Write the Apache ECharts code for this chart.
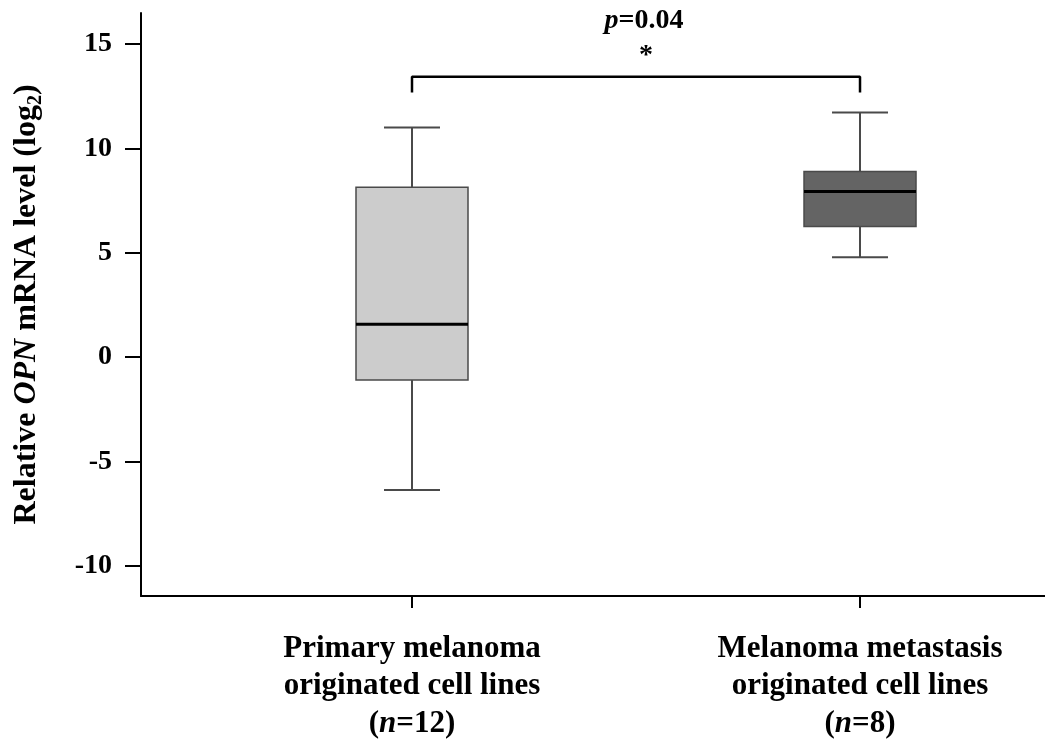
<!DOCTYPE html>
<html>
<head>
<meta charset="utf-8">
<script src="https://cdn.jsdelivr.net/npm/echarts@6/dist/echarts.min.js"></script>
<style>
html,body{margin:0;padding:0;background:#fff;}
#chart{width:1045px;height:742px;}
</style>
</head>
<body>
<div id="chart"></div>
<script>
// ---- data ----
const categories = [
  'Primary melanoma\noriginated cell lines\n({i|n}=12)',
  'Melanoma metastasis\noriginated cell lines\n({i|n}=8)'
];
const whiskerLow  = [-6.36, 4.78];
const q1Vals      = [-1.10, 6.26];
const medianVals  = [ 1.58, 7.93];
const q3Vals      = [ 8.13, 8.89];
const whiskerHigh = [11.00, 11.71];
const yTicks = [-10, -5, 0, 5, 10, 15];
const bracketTop = 13.43;
const bracketEnd = 12.67;
const pText = '{i|p}=0.04';
const starText = '*';

// ---- styles / layout ----
const FONT = "'Liberation Serif', 'Times New Roman', serif";
const boxFill = ['#cccccc', '#646464'];
const yMin = -11.44, yMax = 16.48;
const xMin = -0.6049, xMax = 1.4129;   // category i sits at x = i
const catPos = categories.map((c, i) => i);

const boxData = categories.map((c, i) => [i, whiskerLow[i], q1Vals[i], medianVals[i], q3Vals[i], whiskerHigh[i]]);
const bracketData = [[0, bracketEnd], [0, bracketTop], [1, bracketTop], [1, bracketEnd]];

const chart = echarts.init(document.getElementById('chart'), null, {renderer: 'canvas'});

chart.setOption({
  animation: false,
  backgroundColor: '#ffffff',
  grid: {left: 141, right: 0, top: 13, bottom: 146, containLabel: false, outerBoundsMode: 'none'},
  xAxis: {
    type: 'value', min: xMin, max: xMax,
    axisLine: {show: true, onZero: false, lineStyle: {color: '#000', width: 2}},
    axisTick: {show: true, length: 12, customValues: catPos, lineStyle: {color: '#000', width: 2}},
    axisLabel: {
      show: true, customValues: catPos,
      formatter: function (v) { return categories[Math.round(v)]; },
      margin: 34, color: '#000', fontFamily: FONT, fontWeight: 'bold', fontSize: 31, lineHeight: 37.5,
      rich: {i: {fontStyle: 'italic', fontWeight: 'bold', fontFamily: FONT, fontSize: 31, lineHeight: 37.5, color: '#000'}}
    },
    splitLine: {show: false}
  },
  yAxis: {
    type: 'value', min: yMin, max: yMax,
    axisLine: {show: true, onZero: false, lineStyle: {color: '#000', width: 2}},
    axisTick: {show: true, length: 16, customValues: yTicks, lineStyle: {color: '#000', width: 2}},
    axisLabel: {show: true, customValues: yTicks, margin: 29, color: '#000', fontFamily: FONT, fontWeight: 'bold', fontSize: 28},
    splitLine: {show: false},
    name: 'Relative {i|OPN} mRNA level (log{sub|2})',
    nameLocation: 'middle',
    nameGap: 95,
    nameTextStyle: {
      color: '#000', fontFamily: FONT, fontWeight: 'bold', fontSize: 32, lineHeight: 38,
      rich: {
        i: {fontStyle: 'italic', fontWeight: 'bold', fontFamily: FONT, fontSize: 32, lineHeight: 38, color: '#000'},
        sub: {fontWeight: 'bold', fontFamily: FONT, fontSize: 20, lineHeight: 20, verticalAlign: 'bottom', color: '#000'}
      }
    }
  },
  series: [
    {
      type: 'custom',
      data: boxData,
      encode: {x: 0, y: [1, 2, 3, 4, 5]},
      renderItem: function (params, api) {
        const x = api.value(0);
        const lo = api.coord([x, api.value(1)]);
        const q1 = api.coord([x, api.value(2)]);
        const md = api.coord([x, api.value(3)]);
        const q3 = api.coord([x, api.value(4)]);
        const hi = api.coord([x, api.value(5)]);
        const unit = api.size([1, 0])[0];
        const half = unit * 0.25 / 2;
        const cap = half / 2;
        const cx = lo[0];
        const wStyle = {stroke: '#4a4a4a', lineWidth: 2};
        return {
          type: 'group',
          children: [
            {type: 'line', shape: {x1: cx, y1: hi[1], x2: cx, y2: q3[1]}, style: wStyle},
            {type: 'line', shape: {x1: cx, y1: q1[1], x2: cx, y2: lo[1]}, style: wStyle},
            {type: 'line', shape: {x1: cx - cap, y1: hi[1], x2: cx + cap, y2: hi[1]}, style: wStyle},
            {type: 'line', shape: {x1: cx - cap, y1: lo[1], x2: cx + cap, y2: lo[1]}, style: wStyle},
            {type: 'rect', shape: {x: cx - half, y: q3[1], width: half * 2, height: q1[1] - q3[1]},
              style: {fill: boxFill[params.dataIndex], stroke: '#4a4a4a', lineWidth: 1.5}},
            {type: 'line', shape: {x1: cx - half, y1: md[1], x2: cx + half, y2: md[1]}, style: {stroke: '#000', lineWidth: 3}}
          ]
        };
      }
    },
    {
      type: 'line',
      data: bracketData,
      symbol: 'none',
      lineStyle: {color: '#000', width: 2.5},
      silent: true
    }
  ],
  graphic: [
    {
      type: 'text', x: 644, y: 21,
      style: {
        text: pText, align: 'center', verticalAlign: 'middle',
        fill: '#000', fontFamily: FONT, fontWeight: 'bold', fontSize: 28,
        rich: {i: {fontStyle: 'italic', fontWeight: 'bold', fontFamily: FONT, fontSize: 28, fill: '#000'}}
      }
    },
    {
      type: 'text', x: 646, y: 56,
      style: {text: starText, align: 'center', verticalAlign: 'middle', fill: '#000', fontFamily: FONT, fontWeight: 'bold', fontSize: 28}
    }
  ]
});
</script>
</body>
</html>
